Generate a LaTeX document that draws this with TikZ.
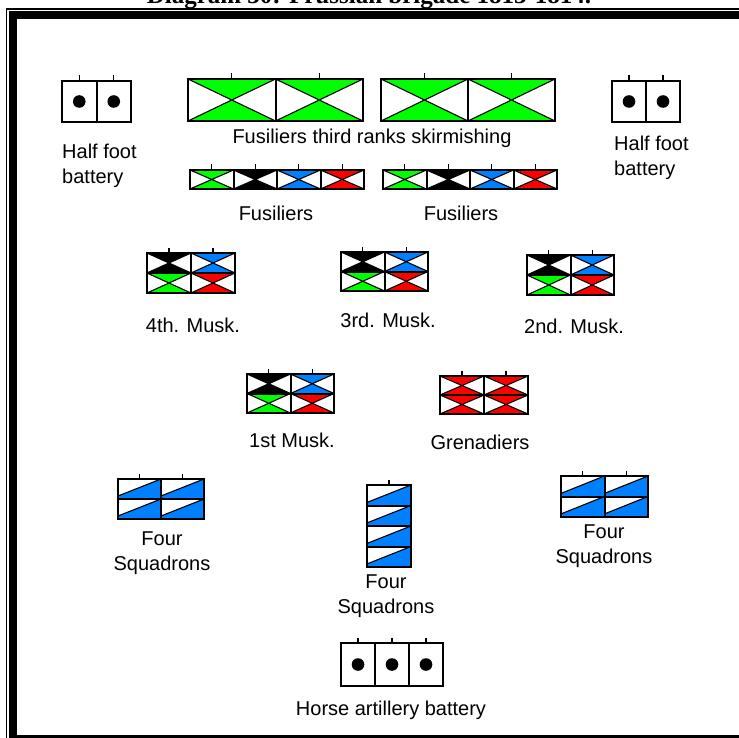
\documentclass[tikz,border=0pt]{standalone}
\usepackage{fontspec}
\setmainfont{Liberation Sans}
\newfontfamily\titlefont{Liberation Serif}
\definecolor{ggreen}{RGB}{0,255,0}
\definecolor{gblue}{RGB}{0,128,255}
\definecolor{gred}{RGB}{255,0,0}
\tikzset{
  boxline/.style={line width=2pt, black},
  thickbox/.style={line width=2.5pt, black},
  diagline/.style={line width=1.1pt, black},
  tickline/.style={line width=1.4pt, black},
  lbl/.style={inner sep=0pt, font=\fontsize{20}{25}\selectfont},
}
% x y w h colour : infantry cell (coloured top & bottom triangles)
\newcommand\mycellX[5]{%
  \begin{scope}[shift={(#1,#2)},xscale=#3,yscale=#4]
    \fill[white] (0,0) rectangle (1,1);
    \fill[#5] (0,0) -- (1,0) -- (0.5,0.5) -- cycle;
    \fill[#5] (0,1) -- (1,1) -- (0.5,0.5) -- cycle;
    \draw[diagline] (0,0) -- (1,1) (0,1) -- (1,0);
  \end{scope}}
% x y w h : cavalry cell
\newcommand\mycellC[4]{%
  \begin{scope}[shift={(#1,#2)},xscale=#3,yscale=#4]
    \fill[white] (0,0) rectangle (1,1);
    \fill[gblue] (0,0.85) -- (1,0) -- (1,1) -- (0,1) -- cycle;
    \draw[diagline] (0,0.85) -- (1,0);
  \end{scope}}
\newcommand\mytick[2]{\draw[tickline] (#1,#2-5.5) -- (#1,#2);}
% x1 y1 x2 y2 c1 c2 c3 c4 : 2x2 block
\newcommand\mymusk[8]{%
  \pgfmathsetmacro\mw{(#3-#1)/2}%
  \pgfmathsetmacro\mh{(#4-#2)/2}%
  \mycellX{#1}{#2}{\mw}{\mh}{#5}
  \mycellX{#1+\mw}{#2}{\mw}{\mh}{#6}
  \mycellX{#1}{#2+\mh}{\mw}{\mh}{#7}
  \mycellX{#1+\mw}{#2+\mh}{\mw}{\mh}{#8}
  \mytick{#1+0.5*\mw}{#2}
  \mytick{#1+1.5*\mw}{#2}
  \draw[thickbox] (#1,#2) rectangle (#3,#4);
  \draw[boxline] (#1+\mw,#2) -- (#1+\mw,#4) (#1,#2+\mh) -- (#3,#2+\mh);}
% x1 y1 x2 y2 : four-cell fusilier line
\newcommand\myfus[4]{%
  \pgfmathsetmacro\mw{(#3-#1)/4}%
  \pgfmathsetmacro\mh{#4-#2}%
  \mycellX{#1}{#2}{\mw}{\mh}{ggreen}
  \mycellX{#1+\mw}{#2}{\mw}{\mh}{black}
  \mycellX{#1+2*\mw}{#2}{\mw}{\mh}{gblue}
  \mycellX{#1+3*\mw}{#2}{\mw}{\mh}{gred}
  \foreach \k in {0.5,1.5,2.5,3.5}{\mytick{#1+\k*\mw}{#2}}
  \draw[thickbox] (#1,#2) rectangle (#3,#4);
  \draw[boxline] (#1+\mw,#2) -- (#1+\mw,#4) (#1+2*\mw,#2) -- (#1+2*\mw,#4) (#1+3*\mw,#2) -- (#1+3*\mw,#4);}
% x1 y1 x2 y2 : two green skirmish cells
\newcommand\mygreen[4]{%
  \pgfmathsetmacro\mw{(#3-#1)/2}%
  \pgfmathsetmacro\mh{#4-#2}%
  \mycellX{#1}{#2}{\mw}{\mh}{ggreen}
  \mycellX{#1+\mw}{#2}{\mw}{\mh}{ggreen}
  \mytick{#1+0.5*\mw}{#2}
  \mytick{#1+1.5*\mw}{#2}
  \draw[boxline] (#1,#2) rectangle (#3,#4);
  \draw[boxline] (#1+\mw,#2) -- (#1+\mw,#4);}
% x1 y1 x2 y2 n : battery with n guns
\newcommand\mybat[5]{%
  \pgfmathsetmacro\mw{(#3-#1)/#5}%
  \fill[white] (#1,#2) rectangle (#3,#4);
  \foreach \k in {1,...,#5}{%
    \fill[black] (#1+\k*\mw-0.5*\mw,0.5*#2+0.5*#4) circle (6.3pt);
    \mytick{#1+\k*\mw-0.5*\mw}{#2}}
  \draw[boxline] (#1,#2) rectangle (#3,#4);
  \foreach \k in {2,...,#5}{\draw[boxline] (#1+\k*\mw-\mw,#2) -- (#1+\k*\mw-\mw,#4);}}
% x1 y1 x2 y2 : 2x2 cavalry
\newcommand\mycav[4]{%
  \pgfmathsetmacro\mw{(#3-#1)/2}%
  \pgfmathsetmacro\mh{(#4-#2)/2}%
  \mycellC{#1}{#2}{\mw}{\mh}
  \mycellC{#1+\mw}{#2}{\mw}{\mh}
  \mycellC{#1}{#2+\mh}{\mw}{\mh}
  \mycellC{#1+\mw}{#2+\mh}{\mw}{\mh}
  \mytick{#1+0.5*\mw}{#2}
  \mytick{#1+1.5*\mw}{#2}
  \draw[boxline] (#1,#2) rectangle (#3,#4);
  \draw[boxline] (#1+\mw,#2) -- (#1+\mw,#4) (#1,#2+\mh) -- (#3,#2+\mh);}
\begin{document}
\begin{tikzpicture}[x=1pt,y=-1pt]
\useasboundingbox (0,0) rectangle (738,738);
\fill[white] (0,0) rectangle (738,738);
% title (cut off at the top, as in the reference)
\node[font=\titlefont\bfseries\fontsize{25}{25}\selectfont, anchor=base, inner sep=0pt] (title) at (369,4) {Diagram 30: Prussian brigade 1813-1814.};
% frame
\draw[line width=1.5pt] (6.5,740) -- (6.5,8.8) -- (740,8.8);
\draw[line width=8pt] (13,740) -- (13,15) -- (740,15);
\fill[black] (9,735) rectangle (740,740);

% half foot batteries
\mybat{62}{81}{131}{122}{2}
\node[lbl, align=left, anchor=west] (hfbL) at (62,166) {Half foot\\battery};
\mybat{612}{81}{680}{122}{2}
\node[lbl, align=left, anchor=west] (hfbR) at (614,158) {Half foot\\battery};

% skirmishing fusiliers
\mygreen{188}{79}{363}{121}
\mygreen{381}{79}{555}{121}
\node[lbl] (skirm) at (372,138) {Fusiliers third ranks skirmishing};

% fusiliers
\myfus{190}{170}{364}{189}
\myfus{383}{170}{557}{189}
\node[lbl] (fusL) at (276,213) {Fusiliers};
\node[lbl] (fusR) at (461,213) {Fusiliers};

% musketeers
\mymusk{147}{253}{235}{293}{black}{gblue}{ggreen}{gred}
\node[lbl] (m4) at (193,325) {4th. Musk.};
\mymusk{341}{252}{428}{291}{black}{gblue}{ggreen}{gred}
\node[lbl] (m3) at (388,320) {3rd. Musk.};
\mymusk{527}{255}{614}{295}{black}{gblue}{ggreen}{gred}
\node[lbl] (m2) at (574,326) {2nd. Musk.};
\mymusk{247}{374}{334}{413}{black}{gblue}{ggreen}{gred}
\node[lbl] (m1) at (292,440) {1st Musk.};
\mymusk{440}{376}{528}{414}{gred}{gred}{gred}{gred}
\node[lbl] (gren) at (480,442) {Grenadiers};

% cavalry
\mycav{118}{479}{204}{519}
\node[lbl, align=center] (cavL) at (162,553) {Four\\Squadrons};
\foreach \k in {0,1,2,3}{\mycellC{367}{485+20.5*\k}{44}{20.5}}
\mytick{389}{485}
\draw[boxline] (367,485) rectangle (411,567);
\draw[boxline] (367,505.5) -- (411,505.5) (367,526) -- (411,526) (367,546.5) -- (411,546.5);
\node[lbl, align=center] (cavM) at (386,596) {Four\\Squadrons};
\mycav{561}{476}{648}{517}
\node[lbl, align=center] (cavR) at (604,546) {Four\\Squadrons};

% horse artillery
\mybat{341}{643}{443}{686}{3}
\node[lbl] (horse) at (391,710) {Horse artillery battery};
\end{tikzpicture}
\end{document}
